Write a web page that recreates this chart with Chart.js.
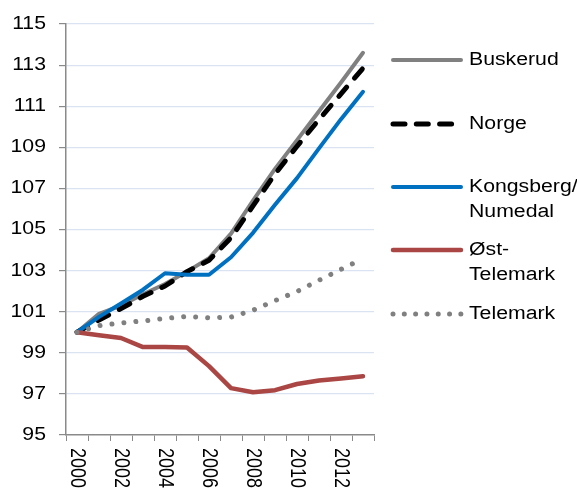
<!DOCTYPE html>
<html lang="no">
<head>
    <meta charset="UTF-8">
    <title>Indeks 2000 = 100</title>
    <script src="https://cdn.jsdelivr.net/npm/chart.js"></script>
    <style>
        body {
            margin: 0;
            background: #ffffff;
        }
        #wrap {
            width: 577px;
            height: 494px;
        }
    </style>
</head>
<body>
    <div id="wrap"><canvas id="indexChart"></canvas></div>

    <script>
        // verdier lest av figuren (indeks, 2000 = 100)
        const years = ['2000', '2001', '2002', '2003', '2004', '2005', '2006',
                       '2007', '2008', '2009', '2010', '2011', '2012', '2013'];
        const buskerud = [100, 100.9, 101.3, 101.85, 102.35, 102.95, 103.6,
                          104.8, 106.4, 107.95, 109.35, 110.75, 112.15, 113.6];
        const norge = [100, 100.6, 101.15, 101.75, 102.25, 102.95, 103.5,
                       104.6, 106.15, 107.7, 109.05, 110.35, 111.6, 112.85];
        const kongsberg = [100, 100.75, 101.4, 102.07, 102.87, 102.8, 102.8,
                           103.65, 104.84, 106.2, 107.5, 108.95, 110.37, 111.7];
        const ostTelemark = [100, 99.85, 99.72, 99.28, 99.28, 99.26, 98.35,
                             97.28, 97.08, 97.18, 97.48, 97.65, 97.75, 97.86];
        const telemark = [100, 100.32, 100.45, 100.55, 100.67, 100.77, 100.7,
                          100.74, 101.07, 101.54, 101.98, 102.53, 103.06, 103.58];
        const yTickValues = [95, 97, 99, 101, 103, 105, 107, 109, 111, 113, 115];
        const xLabelYears = ['2000', '2002', '2004', '2006', '2008', '2010', '2012'];

        const FONT = '18px "Liberation Sans", Arial, sans-serif';
        const STRETCH = 1.18; // teksten i originalen er litt bred
        const GRID = '#dae3f1';
        const AXIS = '#8a8a8a';

        const series = [
            { label: 'Buskerud', data: buskerud, color: '#808080', width: 4, dash: [], order: 5, lines: ['Buskerud'], ly: 60 },
            { label: 'Norge', data: norge, color: '#000000', width: 5, dash: [12, 12], order: 4, lines: ['Norge'], ly: 124 },
            { label: 'Kongsberg/Numedal', data: kongsberg, color: '#0070c0', width: 4, dash: [], order: 3, lines: ['Kongsberg/', 'Numedal'], ly: 187 },
            { label: 'Øst-Telemark', data: ostTelemark, color: '#aa4643', width: 4.5, dash: [], order: 2, lines: ['Øst-', 'Telemark'], ly: 250 },
            { label: 'Telemark', data: telemark, color: '#808080', width: 5, dash: [0.01, 12], order: 1, lines: ['Telemark'], ly: 314 }
        ];

        function stretchedText(ctx, text, x, y, align, baseline, angle) {
            ctx.save();
            ctx.translate(x, y);
            ctx.scale(STRETCH, 1);
            if (angle) ctx.rotate(angle);
            ctx.font = FONT;
            ctx.fillStyle = '#000000';
            ctx.textAlign = align;
            ctx.textBaseline = baseline;
            ctx.fillText(text, 0, 0);
            ctx.restore();
        }

        // akseetiketter og forklaring tegnes her
        const textPlugin = {
            id: 'textPlugin',
            afterDraw(chart) {
                const ctx = chart.ctx;
                const xs = chart.scales.x;
                const ys = chart.scales.y;

                yTickValues.forEach(v => {
                    stretchedText(ctx, String(v), 46, ys.getPixelForValue(v), 'right', 'middle', 0);
                });

                xLabelYears.forEach(yr => {
                    const px = xs.getPixelForValue(years.indexOf(yr));
                    stretchedText(ctx, yr, px, ys.bottom + 13, 'left', 'middle', Math.PI / 2);
                });

                series.forEach(s => {
                    ctx.save();
                    ctx.strokeStyle = s.color;
                    ctx.lineWidth = s.width;
                    ctx.lineCap = 'round';
                    ctx.setLineDash(s.dash.length ? [s.dash[0], s.dash[1] - 0.7] : []);
                    ctx.beginPath();
                    ctx.moveTo(393, s.ly);
                    ctx.lineTo(461, s.ly);
                    ctx.stroke();
                    ctx.restore();
                    s.lines.forEach((t, i) => {
                        stretchedText(ctx, t, 469, s.ly + i * 25, 'left', 'middle', 0);
                    });
                });
            }
        };

        const ctx = document.getElementById('indexChart').getContext('2d');
        new Chart(ctx, {
            type: 'line',
            data: {
                labels: years,
                datasets: series.map(s => ({
                    label: s.label,
                    data: s.data,
                    borderColor: s.color,
                    borderWidth: s.width,
                    borderDash: s.dash,
                    borderCapStyle: 'round',
                    borderJoinStyle: 'round',
                    pointRadius: 0,
                    fill: false,
                    tension: 0,
                    order: s.order
                }))
            },
            options: {
                responsive: true,
                maintainAspectRatio: false,
                animation: false,
                layout: {
                    padding: { top: 24, right: 203, bottom: 0, left: 0 }
                },
                plugins: {
                    legend: { display: false },
                    tooltip: { enabled: false }
                },
                scales: {
                    x: {
                        offset: true,
                        grid: {
                            offset: true,
                            drawOnChartArea: false,
                            tickColor: AXIS,
                            tickLength: 6
                        },
                        border: { color: AXIS, width: 1.5 },
                        ticks: { display: false, autoSkip: false },
                        afterFit(scale) { scale.height = 59; }
                    },
                    y: {
                        min: 95,
                        max: 115,
                        grid: {
                            color: c => (c.tick && c.tick.value === 95) ? 'rgba(0,0,0,0)' : GRID,
                            lineWidth: 1.2,
                            tickColor: AXIS,
                            tickLength: 7
                        },
                        border: { color: AXIS, width: 1.5 },
                        ticks: { display: false, stepSize: 2 },
                        afterFit(scale) { scale.width = 66; }
                    }
                }
            },
            plugins: [textPlugin]
        });
    </script>
</body>
</html>
